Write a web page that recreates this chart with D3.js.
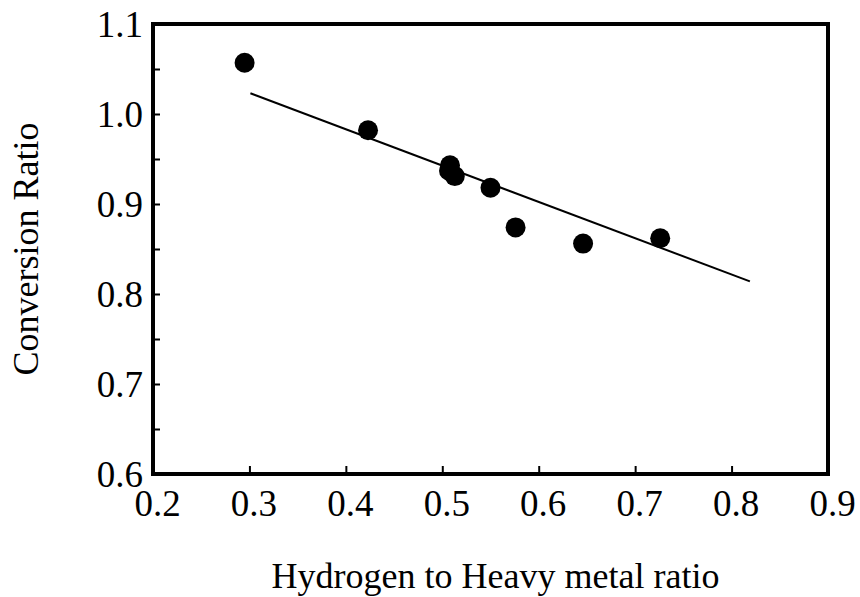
<!DOCTYPE html>
<html>
<head>
<meta charset="utf-8">
<script src="https://cdn.jsdelivr.net/npm/d3@7"></script>
<style>
  html, body { margin: 0; padding: 0; background: #fff; }
  svg { display: block; }
  text { font-family: "Liberation Serif", "Times New Roman", serif; fill: #000; }
</style>
</head>
<body>
<script>
// Data
const ratioH = [0.295, 0.423, 0.508, 0.507, 0.513, 0.550, 0.576, 0.646, 0.726];
const conversion = [1.057, 0.982, 0.943, 0.937, 0.931, 0.918, 0.874, 0.856, 0.862];
const fitX = [0.301, 0.819];
const fitY = [1.023, 0.814];
const xTicks = [0.2, 0.3, 0.4, 0.5, 0.6, 0.7, 0.8, 0.9];
const yTicks = [0.6, 0.7, 0.8, 0.9, 1.0, 1.1];
const yMinor = [0.65, 0.75, 0.85, 0.95, 1.05];
const xTitle = "Hydrogen to Heavy metal ratio";
const yTitle = "Conversion Ratio";

const W = 860, H = 597;
const m = { left: 153, right: 860 - 828, top: 24, bottom: 597 - 474 };

const svg = d3.select("body").append("svg").attr("width", W).attr("height", H);

const x = d3.scaleLinear().domain([0.2, 0.9]).range([m.left, W - m.right]);
const y = d3.scaleLinear().domain([0.6, 1.1]).range([H - m.bottom, m.top]);

// tick marks (inward)
const xAxis = d3.axisBottom(x).tickValues(xTicks).tickSize(-8).tickFormat(d3.format(".1f")).tickPadding(18);
const gx = svg.append("g").attr("transform", `translate(0,${H - m.bottom})`).call(xAxis);
gx.select(".domain").remove();
gx.selectAll(".tick line").attr("stroke", "#000").attr("stroke-width", 2);
gx.selectAll(".tick text").attr("font-size", 37).attr("dx", 4).attr("dy", "0.65em")
  .style("font-family", "'Liberation Serif', serif");

const yAxis = d3.axisLeft(y).tickValues(yTicks).tickSize(-7).tickFormat(d3.format(".1f")).tickPadding(10);
const gy = svg.append("g").attr("transform", `translate(${m.left},0)`).call(yAxis);
gy.select(".domain").remove();
gy.selectAll(".tick line").attr("stroke", "#000").attr("stroke-width", 2);
gy.selectAll(".tick text").attr("font-size", 37).attr("dy", "0.35em")
  .style("font-family", "'Liberation Serif', serif");

const gym = svg.append("g").attr("transform", `translate(${m.left},0)`)
  .call(d3.axisLeft(y).tickValues(yMinor).tickSize(-7).tickFormat(""));
gym.select(".domain").remove();
gym.selectAll(".tick line").attr("stroke", "#000").attr("stroke-width", 2);

// frame
svg.append("rect")
  .attr("x", x(0.2)).attr("y", y(1.1))
  .attr("width", x(0.9) - x(0.2)).attr("height", y(0.6) - y(1.1))
  .attr("fill", "none").attr("stroke", "#000").attr("stroke-width", 4);

// fit line
const fit = fitX.map((d, i) => [d, fitY[i]]);
svg.append("path")
  .attr("d", d3.line().x(d => x(d[0])).y(d => y(d[1]))(fit))
  .attr("fill", "none").attr("stroke", "#000").attr("stroke-width", 2);

// points
svg.append("g").selectAll("circle")
  .data(ratioH.map((d, i) => [d, conversion[i]]))
  .join("circle")
  .attr("cx", d => x(d[0])).attr("cy", d => y(d[1]))
  .attr("r", 10).attr("fill", "#000");

// titles
svg.append("text")
  .attr("x", (x(0.2) + x(0.9)) / 2 + 5).attr("y", 588)
  .attr("text-anchor", "middle").attr("font-size", 36).text(xTitle);

svg.append("text")
  .attr("transform", `translate(38,${(y(0.6) + y(1.1)) / 2}) rotate(-90)`)
  .attr("text-anchor", "middle").attr("font-size", 36).text(yTitle);
</script>
</body>
</html>
